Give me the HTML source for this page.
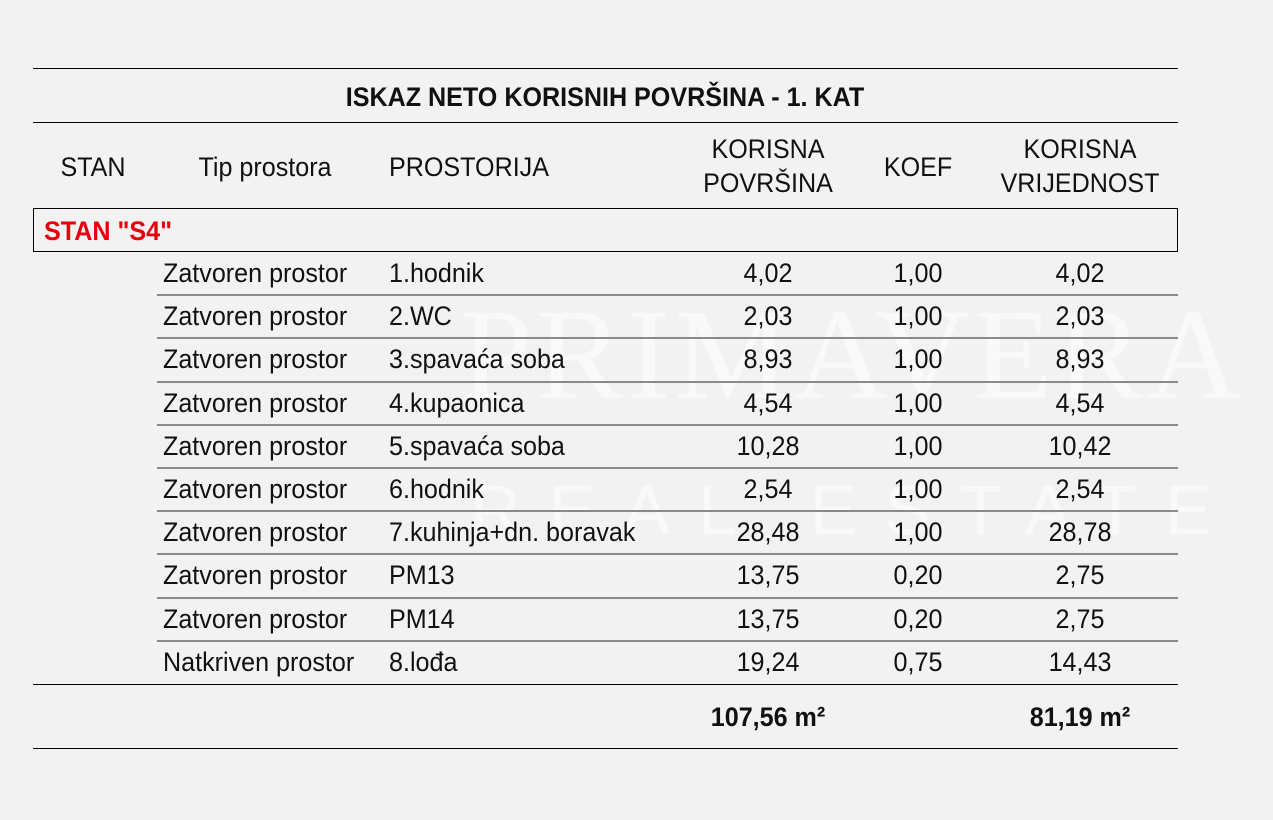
<!DOCTYPE html>
<html><head><meta charset="utf-8"><style>
body{margin:0;width:1273px;height:820px;background:#f2f2f2;position:relative;overflow:hidden;font-family:"Liberation Sans",Arial,sans-serif;color:#111}
.t{position:absolute;font-size:27px;white-space:nowrap;transform:scaleX(0.93);line-height:1}
.l{transform-origin:left center}
.c{transform-origin:center center;transform:translateX(-50%) scaleX(0.93)}
.hl{position:absolute;height:0;border-top:1px solid #000}
.g{border-top:2px solid #8a8a8a}
.wm{position:absolute;color:#fff;opacity:0.6;font-family:"Liberation Serif",serif;white-space:nowrap}
</style></head><body>
<div class="wm" style="left:460px;top:280px;font-size:130px;letter-spacing:4px">PRIMAVERA</div>
<div class="wm" style="left:470px;top:470px;font-size:70px;letter-spacing:28px;font-family:'Liberation Sans',sans-serif">REAL ESTATE</div>
<div class="hl" style="left:33px;top:68px;width:1145px"></div>
<div class="t c" style="left:605px;top:84px;font-weight:bold">ISKAZ NETO KORISNIH POVRŠINA - 1. KAT</div>
<div class="hl" style="left:33px;top:122px;width:1145px"></div>
<div class="t c" style="left:93px;top:154px">STAN</div>
<div class="t c" style="left:265px;top:154px">Tip prostora</div>
<div class="t l" style="left:389px;top:154px">PROSTORIJA</div>
<div class="t c" style="left:768px;top:132px;text-align:center;line-height:34px">KORISNA<br>POVRŠINA</div>
<div class="t c" style="left:918px;top:154px">KOEF</div>
<div class="t c" style="left:1080px;top:132px;text-align:center;line-height:34px">KORISNA<br>VRIJEDNOST</div>
<div style="position:absolute;left:33px;top:208px;width:1143px;height:42px;border:1px solid #000"></div>
<div class="t l" style="left:44px;top:218px;color:#e8000c;font-weight:bold">STAN "S4"</div>
<div id="rows"></div>
<div class="hl" style="left:33px;top:684px;width:1145px"></div>
<div class="t c" style="left:768px;top:704px;font-weight:bold">107,56 m²</div>
<div class="t c" style="left:1080px;top:704px;font-weight:bold">81,19 m²</div>
<div class="hl" style="left:33px;top:748px;width:1145px"></div>
<script>
const tips=["Zatvoren prostor","Zatvoren prostor","Zatvoren prostor","Zatvoren prostor","Zatvoren prostor","Zatvoren prostor","Zatvoren prostor","Zatvoren prostor","Zatvoren prostor","Natkriven prostor"];
const rooms=["1.hodnik","2.WC","3.spavaća soba","4.kupaonica","5.spavaća soba","6.hodnik","7.kuhinja+dn. boravak","PM13","PM14","8.lođa"];
const areas=["4,02","2,03","8,93","4,54","10,28","2,54","28,48","13,75","13,75","19,24"];
const koefs=["1,00","1,00","1,00","1,00","1,00","1,00","1,00","0,20","0,20","0,75"];
const values=["4,02","2,03","8,93","4,54","10,42","2,54","28,78","2,75","2,75","14,43"];
const host=document.getElementById('rows');
const top0=252,rh=43.2;
tips.forEach((tp,i)=>{
  const y=top0+i*rh;
  const mk=(txt,cls,x,name)=>{const d=document.createElement('div');d.className='t '+cls;d.style.left=x+'px';d.style.top=(y+8)+'px';d.textContent=txt;
    
    
    host.appendChild(d);};
  mk(tp,'l',163,'row-tip');
  mk(rooms[i],'l',389,'row-room');
  mk(areas[i],'c',768,'row-area');
  mk(koefs[i],'c',918,'row-koef');
  mk(values[i],'c',1080,'row-value');
  if(i<tips.length-1){const s=document.createElement('div');s.className='hl g';s.style.left='157px';s.style.top=(y+rh-1)+'px';s.style.width='1021px';
    
    
    host.appendChild(s);}
});
</script>
</body></html>
